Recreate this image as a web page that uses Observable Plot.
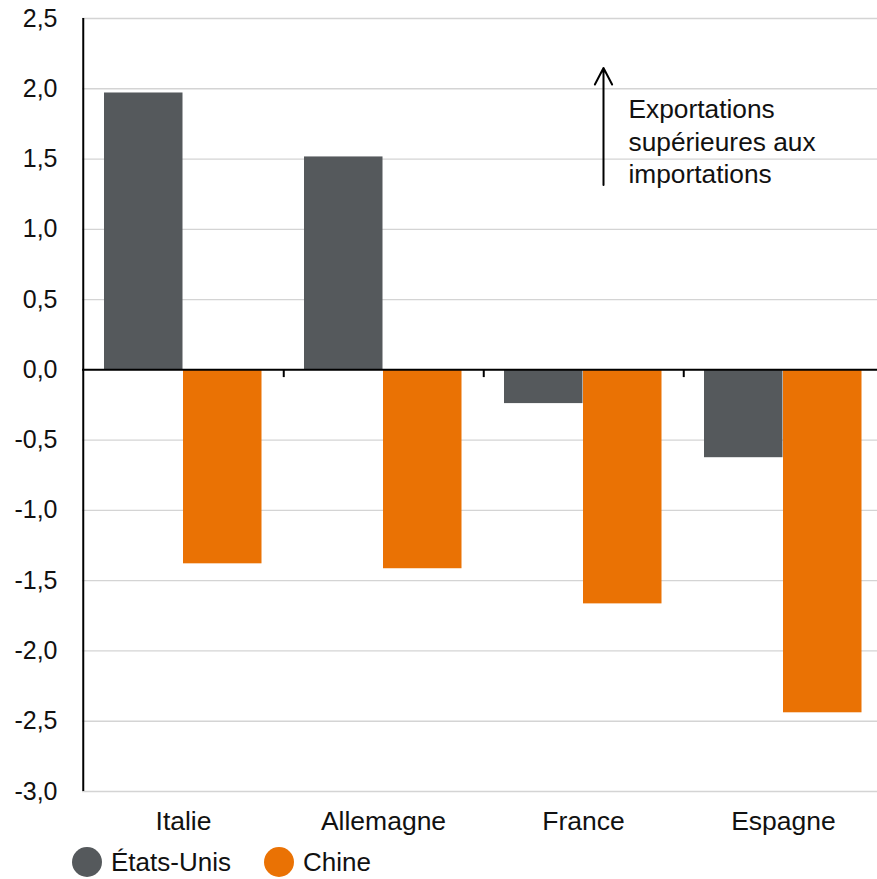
<!DOCTYPE html>
<html>
<head>
<meta charset="utf-8">
<script src="https://cdn.jsdelivr.net/npm/d3@7"></script>
<script src="https://cdn.jsdelivr.net/npm/@observablehq/plot@0.6"></script>
<style>
  html, body { margin: 0; padding: 0; background: #fff; overflow: hidden; }
  body { width: 877px; height: 879px; font-family: "Liberation Sans", Arial, sans-serif; }
  #legend { position: relative; height: 37px; font-size: 26px; color: #111; }
  .item { position: absolute; top: 5px; display: flex; align-items: center; height: 30px; }
  .sw { width: 30px; height: 30px; border-radius: 50%; margin-right: 9px; }
</style>
</head>
<body>
<div id="chart"></div>
<div id="legend"></div>
<script>
const countries = ["Italie", "Allemagne", "France", "Espagne"];
const seriesNames = ["États-Unis", "Chine"];
const usValues = [1.97, 1.515, -0.24, -0.625];
const chinaValues = [-1.38, -1.415, -1.665, -2.44];
const yTicks = [-3, -2.5, -2, -1.5, -1, -0.5, 0, 0.5, 1, 1.5, 2, 2.5];
const annotationLines = ["Exportations", "supérieures aux", "importations"];
const colors = ["#55595c", "#ea7204"];

const usData = countries.map((c, i) => ({country: c, value: usValues[i]}));
const chData = countries.map((c, i) => ({country: c, value: chinaValues[i]}));
const fmt = d => d.toFixed(1).replace(".", ",");

const chart = Plot.plot({
  width: 877,
  height: 842,
  marginTop: 18,
  marginBottom: 51,
  marginLeft: 82,
  marginRight: 0,
  style: {fontFamily: "'Liberation Sans', Arial, sans-serif", fontSize: "25px", color: "#111", background: "#fff"},
  x: {domain: countries, range: [82, 884], padding: 0, label: null},
  y: {domain: [-3, 2.5], label: null},
  marks: [
    Plot.ruleY(yTicks, {stroke: "#d4d4d4", strokeWidth: 1.3}),
    Plot.barY(usData, {x: "country", y: "value", fill: colors[0], insetLeft: 21, insetRight: 100.5}),
    Plot.barY(chData, {x: "country", y: "value", fill: colors[1], insetLeft: 100, insetRight: 21.5}),
    Plot.ruleY([0], {stroke: "#000", strokeWidth: 2}),
    Plot.ruleX(countries.slice(0, 3), {x: d => d, dx: 100.25, y1: 0, y2: -0.055, stroke: "#000", strokeWidth: 2}),
    Plot.ruleX(countries.slice(0, 1), {x: d => d, dx: -100.25, y1: -3, y2: 2.5, stroke: "#000", strokeWidth: 2}),
    Plot.axisY({ticks: yTicks, tickFormat: fmt, tickSize: 0, tickPadding: 25, fontSize: 25}),
    Plot.axisX({tickSize: 0, tickPadding: 20, fontSize: 26.5}),
    Plot.arrow([{c: "France"}], {x1: "c", x2: "c", y1: 1.316, y2: 2.148, dx: 20, stroke: "#000", strokeWidth: 2, headLength: 14, headAngle: 55}),
    Plot.text([{c: "France", t: annotationLines.join("\n")}], {x: "c", y: 1.635, text: "t", dx: 45, textAnchor: "start", lineAnchor: "middle", lineHeight: 1.24, fontSize: 26.3, fill: "#111"})
  ]
});
document.getElementById("chart").appendChild(chart);

const legend = document.getElementById("legend");
const lefts = [72, 264];
seriesNames.forEach((name, i) => {
  const it = document.createElement("div");
  it.className = "item";
  it.style.left = lefts[i] + "px";
  const sw = document.createElement("span");
  sw.className = "sw";
  sw.style.background = colors[i];
  const tx = document.createElement("span");
  tx.textContent = name;
  it.appendChild(sw);
  it.appendChild(tx);
  legend.appendChild(it);
});
</script>
</body>
</html>
